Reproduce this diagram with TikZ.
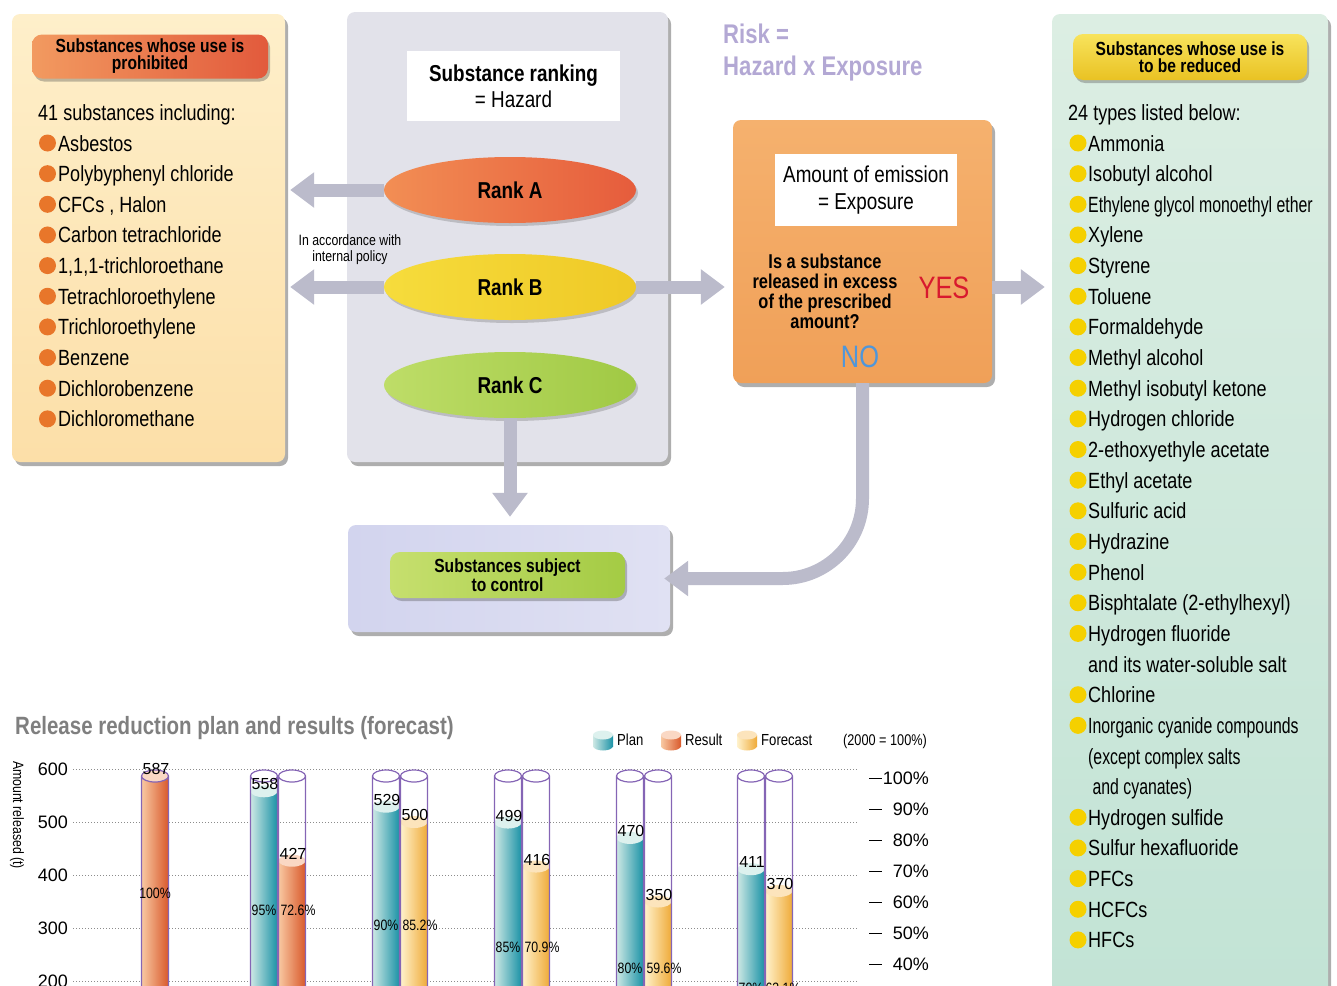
\documentclass[tikz,border=0pt]{standalone}
\usepackage{fontspec}
\setmainfont{Liberation Sans}[FakeStretch=0.82]
\newfontfamily\narrowfont{Liberation Sans}[FakeStretch=0.72]
\newfontfamily\widefont{Liberation Sans}
\usetikzlibrary{shapes.geometric, shadows, arrows.meta}
\definecolor{peach-top}{HTML}{FEEFCA}
\definecolor{peach-bot}{HTML}{FCDFA8}
\definecolor{panel-gray}{HTML}{E2E2EA}
\definecolor{panel-lilac-l}{HTML}{D2D4EE}
\definecolor{panel-lilac-r}{HTML}{E0E1F3}
\definecolor{mint-top}{HTML}{DCEEE3}
\definecolor{mint-bot}{HTML}{C2E3D5}
\definecolor{box-orange-top}{HTML}{F5B16E}
\definecolor{box-orange-bot}{HTML}{F0A058}
\definecolor{pill-red-l}{HTML}{F29A60}
\definecolor{pill-red-r}{HTML}{E25A3C}
\definecolor{pill-yellow-t}{HTML}{F8E35C}
\definecolor{pill-yellow-b}{HTML}{E9C223}
\definecolor{pill-green-l}{HTML}{C6DF6E}
\definecolor{pill-green-r}{HTML}{A4CB44}
\definecolor{rankA-l}{HTML}{F28E54}
\definecolor{rankA-r}{HTML}{E65C3C}
\definecolor{rankB-l}{HTML}{F6DC3C}
\definecolor{rankB-r}{HTML}{EFC926}
\definecolor{rankC-l}{HTML}{BEDD68}
\definecolor{rankC-r}{HTML}{A0C944}
\definecolor{dot-orange}{HTML}{E8762A}
\definecolor{dot-yellow}{HTML}{F5D000}
\definecolor{arrow-gray}{HTML}{BBBBCB}
\definecolor{risk-lilac}{HTML}{B3A8D4}
\definecolor{yes-red}{HTML}{D8192E}
\definecolor{no-blue}{HTML}{4F96DA}
\definecolor{title-gray}{HTML}{7F7F7F}
\definecolor{grid-gray}{HTML}{8C8C8C}
\definecolor{tube-purple}{HTML}{8565B5}
\definecolor{plan-l}{HTML}{CDE8E4}
\definecolor{plan-r}{HTML}{1A92A6}
\definecolor{plan-t}{HTML}{DDF1EE}
\definecolor{res-l}{HTML}{F8C8A2}
\definecolor{res-r}{HTML}{D9592B}
\definecolor{res-t}{HTML}{FAD8C4}
\definecolor{fc-l}{HTML}{FFF2CC}
\definecolor{fc-r}{HTML}{EFAA38}
\definecolor{fc-t}{HTML}{FCE4BC}
\newcommand{\txtsize}[1]{\fontsize{#1}{#1}\selectfont}

\begin{document}
\begin{tikzpicture}[x=1pt, y=-1pt,
    every node/.style={inner sep=0pt},
    panel/.style={rounded corners=8pt,
      drop shadow={shadow xshift=3pt, shadow yshift=-4pt, opacity=.45, fill=black!70}},
    pill/.style={rounded corners=10pt, align=center,
      font=\bfseries\fontsize{19}{17}\selectfont,
      drop shadow={shadow xshift=2pt, shadow yshift=-3pt, opacity=.35, fill=black!70}},
    rank/.style={ellipse, minimum width=252pt, minimum height=66pt,
      font=\bfseries\txtsize{23},
      drop shadow={shadow xshift=2pt, shadow yshift=-3pt, opacity=.25, fill=black!70}},
    item/.style={anchor=base west, font=\txtsize{22}},
    dot/.style={circle, minimum size=17pt},
    bigarrow/.style={line width=13pt, draw=arrow-gray,
      -{Triangle[length=24pt, width=34pt]}},
    plan/.style={left color=plan-l, right color=plan-r},
    res/.style={left color=res-l, right color=res-r},
    fc/.style={left color=fc-l, right color=fc-r},
    plan top/.style={fill=plan-t},
    res top/.style={fill=res-t},
    fc top/.style={fill=fc-t},
    tube/.style={draw=tube-purple, line width=1.2pt}]
  \useasboundingbox (0,0) rectangle (1337,985);
  \clip (0,0) rectangle (1337,985);

  \node[panel, top color=peach-top, bottom color=peach-bot,
        minimum width=273pt, minimum height=448pt] (prohib) at (148.5,238) {};
  \node[pill, left color=pill-red-l, right color=pill-red-r,
        minimum width=236pt, minimum height=44pt] (prohibhead) at (150,56.5)
        {Substances whose use is\\prohibited};
  \node[item] (prohibintro) at (38,120) {41 substances including:};
  \foreach \name [count=\i from 0] in {Asbestos, Polybyphenyl chloride,
      {CFCs , Halon}, Carbon tetrachloride, {1,1,1-trichloroethane},
      Tetrachloroethylene, Trichloroethylene, Benzene, Dichlorobenzene,
      Dichloromethane} {
    \node[dot, fill=dot-orange] (pdot\i) at (47.5,143+30.65*\i) {};
    \node[item] (pitem\i) at (58,151+30.65*\i) {\name};
  }

  \node[panel, fill=panel-gray, minimum width=321pt, minimum height=450pt]
        (ranking) at (507.5,237) {};
  \node[fill=white, minimum width=213pt, minimum height=70pt, align=center,
        font=\fontsize{23}{26}\selectfont] (hazard) at (513.5,86)
        {\textbf{Substance ranking}\\= Hazard};
  \node[rank, left color=rankA-l, right color=rankA-r] (rankA) at (510,190) {Rank A};
  \node[rank, left color=rankB-l, right color=rankB-r] (rankB) at (510,287) {Rank B};
  \node[rank, left color=rankC-l, right color=rankC-r] (rankC) at (510,385) {Rank C};
  \node[align=center, font=\fontsize{15}{16}\selectfont] (policy) at (350,250)
        {In accordance with\\internal policy};

  \node[anchor=base west, font=\bfseries\txtsize{27}, text=risk-lilac]
        (riskeq) at (723,43) {Risk =};
  \node[anchor=base west, font=\bfseries\txtsize{27}, text=risk-lilac]
        (riskprod) at (723,75) {Hazard x Exposure};

  \node[panel, top color=box-orange-top, bottom color=box-orange-bot,
        minimum width=259pt, minimum height=263pt] (riskbox) at (862.5,251.5) {};
  \node[fill=white, minimum width=182pt, minimum height=72pt, align=center,
        font=\fontsize{23}{27}\selectfont] (exposure) at (866,190)
        {Amount of emission\\= Exposure};
  \node[align=center, font=\bfseries\fontsize{20}{20}\selectfont] (question)
        at (825,291) {Is a substance\\released in excess\\of the prescribed\\amount?};
  \node[font=\txtsize{31}, text=yes-red] (yes) at (944,288) {YES};
  \node[font=\txtsize{31}, text=no-blue] (no) at (860,357) {NO};

  \node[panel, left color=panel-lilac-l, right color=panel-lilac-r,
        minimum width=322pt, minimum height=107pt] (control) at (509,578.5) {};
  \node[pill, left color=pill-green-l, right color=pill-green-r,
        minimum width=235pt, minimum height=46pt] (controlhead) at (507.5,575)
        {Substances subject\\to control};

  \node[panel, top color=mint-top, bottom color=mint-bot,
        minimum width=276pt, minimum height=990pt] (reduce) at (1190,509) {};
  \node[pill, top color=pill-yellow-t, bottom color=pill-yellow-b,
        minimum width=234pt, minimum height=46pt] (reducehead) at (1190,57)
        {Substances whose use is\\to be reduced};
  \node[item] (reduceintro) at (1068,120) {24 types listed below:};
  \foreach \name [count=\i from 0] in {Ammonia, Isobutyl alcohol,
      {\narrowfont Ethylene glycol monoethyl ether}, Xylene, Styrene, Toluene,
      Formaldehyde, Methyl alcohol, Methyl isobutyl ketone, Hydrogen chloride,
      2-ethoxyethyle acetate, Ethyl acetate, Sulfuric acid, Hydrazine, Phenol,
      Bisphtalate (2-ethylhexyl), Hydrogen fluoride, and its water-soluble salt,
      Chlorine, {\narrowfont Inorganic cyanide compounds},
      {\narrowfont (except complex salts}, {\narrowfont\ and cyanates)},
      Hydrogen sulfide, Sulfur hexafluoride, PFCs, HCFCs, HFCs} {
    \node[item] (ritem\i) at (1088,151+30.65*\i) {\name};
  }
  \foreach \i in {0,...,16,18,19,22,23,24,25,26}
    \node[dot, fill=dot-yellow] (rdot\i) at (1078,143+30.65*\i) {};

  \draw[bigarrow, shorten >=5pt] (rankA.west) -- (rankA.west -| prohib.east);
  \draw[bigarrow, shorten >=5pt] (rankB.west) -- (rankB.west -| prohib.east);
  \draw[bigarrow, shorten >=8pt] (rankB.east) -- (rankB.east -| riskbox.west);
  \draw[bigarrow, shorten >=7pt] (riskbox.east |- rankB.east) -- (rankB.east -| reduce.west);
  \draw[bigarrow, shorten >=8pt] (rankC.south) -- (rankC.south |- control.north);
  \draw[bigarrow, rounded corners=80pt, shorten >=-6pt] (riskbox.south) |- (control.east);

  \node[anchor=base west, font=\bfseries\txtsize{25}, text=title-gray]
        (charttitle) at (15,734) {Release reduction plan and results (forecast)};
  \foreach \lx/\kind/\ltext [count=\m] in {603/plan/Plan, 671/res/Result, 747/fc/Forecast} {
    \shade[\kind] (\lx-10,735) rectangle (\lx+10,746);
    \shade[\kind] (\lx,746) ellipse (10 and 4.5);
    \fill[\kind\space top] (\lx,735) ellipse (10 and 4.5);
    \node[anchor=west, font=\txtsize{16}] (legend\m) at (\lx+14,740) {\ltext};
  }
  \node[font=\txtsize{15.5}] (basis) at (885,741) {(2000 = 100\%)};
  \node[rotate=-90, font=\txtsize{15}] (ylabel) at (17,815) {Amount released (t)};

  \foreach \v in {600,500,400,300,200} {
    \pgfmathsetmacro\gy{769+(600-\v)*0.53}
    \node[anchor=east, font=\widefont\txtsize{18}] (axis\v) at (68,\gy) {\v};
    \draw[grid-gray, dotted, line width=1pt] (73,\gy) -- (858,\gy);
  }
  \foreach \p [count=\j from 0] in {100,90,80,70,60,50,40} {
    \draw[line width=0.9pt] (869,778+31*\j) -- (882,778+31*\j);
    \node[anchor=east, font=\widefont\txtsize{18}] (pct\p) at (929,778+31*\j) {\p\%};
  }

  \foreach \cx/\val/\kind/\px/\py/\pct [count=\k] in {
      155/587/res/155/893/100, 264/558/plan/264/910/95, 292/427/res/298/910/72.6,
      386/529/plan/386/925/90, 414/500/fc/420/925/85.2,
      508/499/plan/508/947/85, 536/416/fc/542/947/70.9,
      630/470/plan/630/968/80, 658/350/fc/664/968/59.6,
      751/411/plan/751/988/70, 779/370/fc/783/988/63.1} {
    \pgfmathsetmacro\ytop{769+(600-\val)*0.53}
    \shade[\kind] (\cx-13.5,\ytop) rectangle (\cx+13.5,995);
    \fill[\kind\space top] (\cx,\ytop) ellipse (13.5 and 6);
    \draw[tube] (\cx-13.5,776) -- (\cx-13.5,995) (\cx+13.5,776) -- (\cx+13.5,995)
      (\cx,776) ellipse (13.5 and 6);
    \node[font=\widefont\txtsize{16}] (val\k) at (\cx+1,\ytop-7) {\val};
    \node[font=\txtsize{15}] (share\k) at (\px,\py) {\pct\%};
  }
\end{tikzpicture}
\end{document}
